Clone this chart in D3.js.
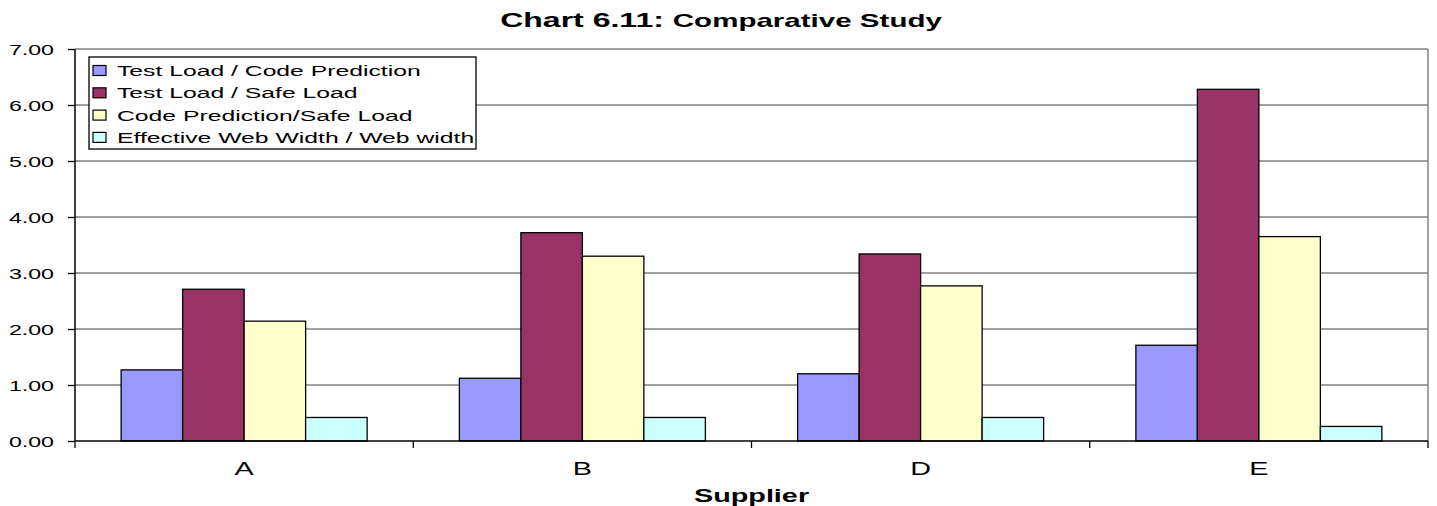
<!DOCTYPE html>
<html>
<head>
<meta charset="utf-8">
<script src="https://cdn.jsdelivr.net/npm/d3@7"></script>
<style>
  body { margin: 0; background: #fff; }
  svg { display: block; font-family: "Liberation Sans", Arial, sans-serif; }
</style>
</head>
<body>
<svg id="chart" width="1437" height="506"></svg>
<script>
// Suppliers along the x axis
const suppliers = ["A", "B", "D", "E"];

// Ratio series, one value per supplier
const seriesNames = [
  "Test Load / Code Prediction",
  "Test Load / Safe Load",
  "Code Prediction/Safe Load",
  "Effective Web Width / Web width"
];
const testLoadCodePrediction = [1.27, 1.12, 1.20, 1.71];
const testLoadSafeLoad       = [2.71, 3.72, 3.34, 6.28];
const codePredictionSafeLoad = [2.14, 3.30, 2.77, 3.65];
const effectiveWebWidthRatio = [0.42, 0.42, 0.42, 0.26];
const seriesColors = ["#9999ff", "#993366", "#ffffcc", "#ccffff"];

// Y axis ticks
const yTicks = [0, 1, 2, 3, 4, 5, 6, 7];

const seriesValues = [
  testLoadCodePrediction,
  testLoadSafeLoad,
  codePredictionSafeLoad,
  effectiveWebWidthRatio
];

// Text is drawn horizontally widened
const SX = 1.6;
const place = (x, y, sx = SX) => `translate(${x},${y}) scale(${sx},1)`;

const svg = d3.select("#chart");
const plotLeft = 75, plotRight = 1428, plotTop = 49, plotBottom = 441;

const x = d3.scaleBand().domain(suppliers).range([plotLeft, plotRight]);
// 150% gap between groups: band = 4 bars + 1.5 bar widths
const barW = x.bandwidth() / 5.5;
const y = d3.scaleLinear().domain([0, 7]).range([plotBottom, plotTop]);

// Gridlines
svg.append("g")
  .selectAll("line")
  .data(yTicks.filter(d => d > 0))
  .join("line")
  .attr("x1", plotLeft).attr("x2", plotRight)
  .attr("y1", d => y(d)).attr("y2", d => y(d))
  .attr("stroke", "#808080").attr("stroke-width", 1.5);

// Plot border on right
svg.append("line")
  .attr("x1", plotRight).attr("x2", plotRight).attr("y1", plotTop).attr("y2", plotBottom)
  .attr("stroke", "#808080").attr("stroke-width", 1.5);

// Bars
const groups = svg.append("g")
  .selectAll("g")
  .data(suppliers)
  .join("g");

groups.selectAll("rect")
  .data((s, i) => seriesValues.map((vals, k) => ({ k, v: vals[i], s })))
  .join("rect")
  .attr("x", d => x(d.s) + 0.75 * barW + d.k * barW)
  .attr("y", d => y(d.v))
  .attr("width", barW)
  .attr("height", d => y(0) - y(d.v))
  .attr("fill", d => seriesColors[d.k])
  .attr("stroke", "#000")
  .attr("stroke-width", 1.3);

// Y axis
const yAxis = d3.axisLeft(y)
  .tickValues(yTicks)
  .tickFormat(d3.format(".2f"))
  .tickSize(7)
  .tickPadding(13);
const gy = svg.append("g").attr("transform", `translate(${plotLeft},0)`).call(yAxis);
gy.select(".domain").attr("stroke", "#000").attr("stroke-width", 1.5).attr("d", `M0,${plotTop}V${plotBottom}`);
gy.selectAll(".tick line").attr("stroke", "#000").attr("stroke-width", 1.3);
gy.selectAll(".tick text")
  .attr("font-size", 14.5).attr("fill", "#000")
  .attr("font-family", "Liberation Sans, Arial, sans-serif")
  .attr("x", 0).attr("dy", "0.36em")
  .attr("transform", place(-21, 0));

// X axis
const gx = svg.append("g").attr("transform", `translate(0,${plotBottom})`);
gx.append("line").attr("x1", plotLeft).attr("x2", plotRight).attr("y1", 0).attr("y2", 0)
  .attr("stroke", "#000").attr("stroke-width", 1.5);
gx.selectAll("line.tick")
  .data(suppliers.concat(["_end"]))
  .join("line")
  .attr("class", "tick")
  .attr("x1", (d, i) => plotLeft + i * x.step())
  .attr("x2", (d, i) => plotLeft + i * x.step())
  .attr("y1", 0).attr("y2", 7)
  .attr("stroke", "#000").attr("stroke-width", 1.3);
gx.selectAll("text")
  .data(suppliers)
  .join("text")
  .attr("transform", d => place(x(d) + x.bandwidth() / 2, 34))
  .attr("text-anchor", "middle")
  .attr("font-size", 18)
  .text(d => d);

// Axis title
svg.append("text")
  .attr("transform", place((plotLeft + plotRight) / 2, 502))
  .attr("text-anchor", "middle")
  .attr("font-size", 18).attr("font-weight", "bold")
  .text("Supplier");

// Chart title
const title = svg.append("text")
  .attr("transform", place(721, 27, 1.66))
  .attr("text-anchor", "middle")
  .attr("font-weight", "bold");
title.append("tspan").attr("font-size", 19.3).text("Chart 6.11: ");
title.append("tspan").attr("font-size", 17.8).text("Comparative Study");

// Legend
const legend = svg.append("g").attr("transform", "translate(89,57)");
legend.append("rect")
  .attr("width", 387).attr("height", 92)
  .attr("fill", "#fff").attr("stroke", "#000").attr("stroke-width", 1.3);
const items = legend.selectAll("g")
  .data(seriesNames)
  .join("g")
  .attr("transform", (d, i) => `translate(0,${13.5 + i * 22.3})`);
items.append("rect")
  .attr("x", 4).attr("y", -5).attr("width", 13).attr("height", 10)
  .attr("fill", (d, i) => seriesColors[i])
  .attr("stroke", "#000").attr("stroke-width", 1.2);
items.append("text")
  .attr("transform", place(28, 5.5))
  .attr("font-size", 15.45)
  .text(d => d);
</script>
</body>
</html>
